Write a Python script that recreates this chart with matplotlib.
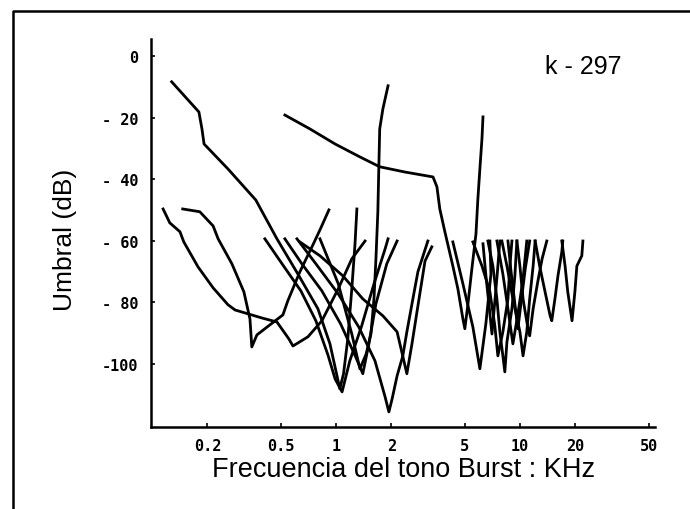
import matplotlib
matplotlib.use('Agg')
import matplotlib.pyplot as plt
from matplotlib.lines import Line2D


# ------------------------------
# Datos: curvas de sintonía (frecuencia en kHz, umbral en dB)
# ------------------------------
c1_f = [0.128, 0.180, 0.187, 0.192, 0.259, 0.367, 0.478, 0.621, 0.798, 0.928, 1.00, 1.05, 1.10, 1.16, 1.22, 1.27, 1.30]
c1_db = [-8.4, -18.2, -23.7, -28.6, -36.7, -46.8, -59.4, -70.8, -82.1, -93.5, -102.3, -108.1, -103.2, -91.9, -75.6, -61.0, -49.7]

c2_f = [0.115, 0.125, 0.142, 0.149, 0.178, 0.215, 0.259, 0.283, 0.396, 0.478, 0.555, 0.584, 0.705, 0.839, 1.03, 1.22, 1.44]
c2_db = [-49.7, -54.2, -57.1, -60.4, -68.5, -75.3, -80.8, -82.5, -85.1, -86.4, -91.9, -94.2, -91.2, -86.0, -75.6, -65.9, -60.1]

c3_f = [0.147, 0.182, 0.215, 0.229, 0.272, 0.316, 0.341, 0.349, 0.372, 0.417, 0.515, 0.548, 0.637, 0.759, 0.829, 0.916]
c3_db = [-49.7, -50.6, -55.2, -59.4, -67.5, -76.6, -85.4, -94.5, -90.6, -88.3, -84.1, -79.5, -70.1, -60.7, -55.8, -50.0]

c4_f = [0.411, 0.515, 0.645, 0.778, 0.905, 0.99, 1.08, 1.19, 1.38, 1.61, 1.85, 1.92]
c4_db = [-59.4, -67.9, -76.3, -86.0, -97.1, -104.9, -109.1, -99.0, -87.7, -74.0, -62.7, -59.4]

c5_f = [0.528, 0.653, 0.839, 1.06, 1.28, 1.40, 1.51, 1.65, 1.89, 2.15]
c5_db = [-59.4, -67.5, -76.3, -87.0, -97.7, -103.2, -93.5, -80.5, -67.5, -60.1]

c6_f = [0.614, 0.778, 1.03, 1.33, 1.63, 1.85, 1.94, 2.02, 2.15, 2.31, 2.43, 2.62, 2.79, 3.16]
c6_db = [-59.4, -67.5, -77.3, -88.0, -99.0, -110.7, -115.6, -111.4, -103.9, -97.4, -89.6, -78.9, -70.1, -60.1]

c7_f = [0.637, 0.819, 1.09, 1.40, 1.80, 2.15, 2.28, 2.43, 2.59, 2.79, 3.05, 3.32]
c7_db = [-60.4, -64.9, -71.4, -78.9, -84.4, -89.6, -96.1, -103.2, -93.5, -81.2, -66.6, -62.0]

c8_f = [0.819, 1.03, 1.22, 1.35, 1.46, 1.55, 1.61, 1.65, 1.69, 1.71, 1.73, 1.80, 1.92]
c8_db = [-59.4, -74.0, -90.3, -101.6, -96.8, -90.3, -78.9, -65.9, -50.6, -36.7, -23.7, -17.2, -9.7]

c9_f = [0.528, 0.722, 0.99, 1.35, 1.73, 2.37, 3.37, 3.54, 3.67, 3.91, 4.32, 4.60, 4.90, 5.02,
        5.22, 5.48, 5.77, 5.91, 6.06, 6.22, 6.30]
c9_db = [-19.2, -23.7, -28.6, -32.8, -36.0, -37.7, -39.3, -42.5, -49.7, -57.1, -68.2, -75.6, -85.4, -88.6,
         -80.5, -69.2, -57.8, -46.4, -36.7, -26.9, -19.8]

c10_f = [4.32, 4.90, 5.55, 6.06, 6.53, 6.96, 6.87]
c10_db = [-60.4, -74.0, -88.0, -101.6, -87.0, -70.8, -60.1]

c11_f = [5.55, 6.22, 6.87, 7.31, 7.59, 8.08, 8.61, 8.82, 9.05]
c11_db = [-60.4, -68.2, -76.6, -87.7, -97.4, -89.6, -78.9, -68.2, -60.1]

c12_f = [6.70, 7.13, 7.50, 7.78, 8.08, 8.28, 8.50, 9.05, 9.39, 9.63]
c12_db = [-60.1, -68.2, -78.9, -89.6, -97.4, -102.6, -92.9, -82.1, -71.4, -60.1]

c13_f = [7.98, 8.50, 9.16, 10.0, 10.4, 10.9, 11.3, 11.8, 12.1]
c13_db = [-60.1, -68.2, -78.9, -89.6, -97.4, -89.6, -78.9, -68.2, -60.1]

c14_f = [9.63, 10.0, 10.4, 11.0, 11.3, 11.8, 12.5, 13.2, 14.0]
c14_db = [-60.1, -68.2, -78.9, -87.7, -90.9, -82.1, -73.4, -65.9, -60.1]

c15_f = [12.1, 12.8, 13.7, 14.6, 14.9, 15.5, 16.1, 16.9, 17.1]
c15_db = [-60.1, -68.2, -76.6, -84.4, -86.0, -78.9, -71.4, -63.6, -60.1]

c16_f = [16.9, 17.6, 18.2, 19.2, 19.9, 20.4, 21.7, 22.0]
c16_db = [-60.1, -68.2, -76.6, -86.0, -76.6, -68.2, -64.9, -60.1]

c17_f = [7.50, 8.08, 8.61, 9.16, 9.75, 10.4, 10.9]
c17_db = [-60.1, -70.8, -82.1, -93.5, -83.8, -72.4, -60.1]

c18_f = [8.61, 8.95, 9.39, 9.75, 10.2, 10.7, 11.3]
c18_db = [-60.1, -70.0, -80.5, -88.6, -79.0, -69.0, -60.1]

c19_f = [6.30, 6.55, 6.85, 7.05, 7.30, 7.55, 7.78]
c19_db = [-61.0, -72.0, -83.0, -90.3, -80.0, -70.0, -60.1]

curves = [(c1_f, c1_db), (c2_f, c2_db), (c3_f, c3_db), (c4_f, c4_db), (c5_f, c5_db),
          (c6_f, c6_db), (c7_f, c7_db), (c8_f, c8_db), (c9_f, c9_db), (c10_f, c10_db),
          (c11_f, c11_db), (c12_f, c12_db), (c13_f, c13_db), (c14_f, c14_db),
          (c15_f, c15_db), (c16_f, c16_db), (c17_f, c17_db), (c18_f, c18_db), (c19_f, c19_db)]

x_ticks = [0.2, 0.5, 1, 2, 5, 10, 20, 50]
x_labels = ['0.2', '0.5', '1', '2', '5', '10', '20', '50']
y_ticks = [0, -20, -40, -60, -80, -100]
y_labels = ['0', '- 20', '- 40', '- 60', '- 80', '-100']


# ------------------------------
# Gráfico
# ------------------------------
fig = plt.figure(figsize=(6.9, 5.1), dpi=100)
ax = fig.add_axes([0.2188, 0.1608, 0.7304, 0.7608])

for f, db in curves:
    ax.plot(f, db, color='black', linewidth=2.0, solid_joinstyle='round')

ax.set_xscale('log')
ax.set_xlim(0.0988, 54.2)
ax.set_ylim(-120.5, 5.5)

ax.set_xticks(x_ticks)
ax.set_xticklabels(x_labels)
ax.xaxis.set_minor_locator(matplotlib.ticker.NullLocator())
ax.set_yticks(y_ticks)
ax.set_yticklabels(y_labels)

for lab in ax.get_xticklabels() + ax.get_yticklabels():
    lab.set_fontfamily('DejaVu Sans Mono')
    lab.set_fontweight('bold')
    lab.set_fontsize(11)

ax.tick_params(direction='in', length=3, width=1.2, pad=8, colors='black')
ax.tick_params(axis='y', pad=9)

for side in ['top', 'right']:
    ax.spines[side].set_visible(False)
for side in ['left', 'bottom']:
    ax.spines[side].set_linewidth(1.8)

fig.text(0.0942, 0.529, 'Umbral (dB)', rotation=90, ha='center', va='center',
         fontsize=19, family='Liberation Sans')
fig.text(0.5855, 0.0784, 'Frecuencia del tono Burst : KHz', ha='center', va='center',
         fontsize=19.5, family='Liberation Sans')
fig.text(0.845, 0.869, 'k - 297', ha='center', va='center',
         fontsize=18, family='Liberation Sans')

# marco de la figura (solo arriba e izquierda)
fig.add_artist(Line2D([0.019, 0.019, 1.0], [0.0, 0.976, 0.976],
                      transform=fig.transFigure, color='black', linewidth=1.8))

fig.savefig('out.png', dpi=100, facecolor='white')
